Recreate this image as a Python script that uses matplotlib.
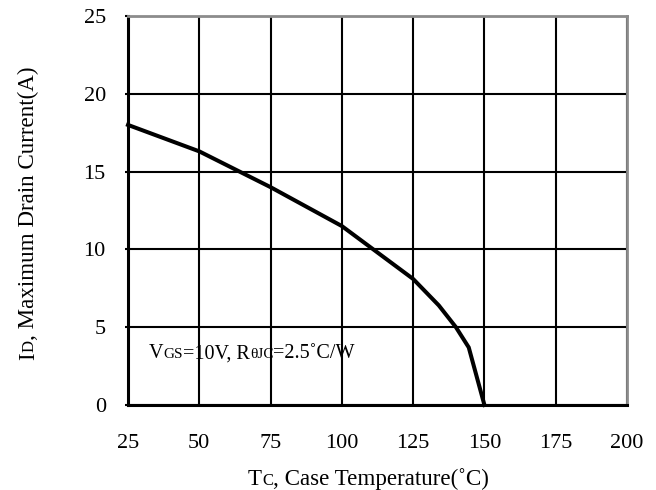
" maximum drain current vs case temperature "
import matplotlib
matplotlib.use("Agg")
import matplotlib.pyplot as plt

plt.rcParams['font.family'] = ['Liberation Serif', 'DejaVu Serif']

tc = [25, 50, 75, 100, 125, 134, 140, 144.5, 150]
i_d = [18.0, 16.3, 14.0, 11.5, 8.1, 6.4, 5.0, 3.7, 0.0]
xticks = [25, 50, 75, 100, 125, 150, 175, 200]
yticks = [0, 5, 10, 15, 20, 25]


def chain(ax, pieces, xy, coords, rotation=0):
    " draw text pieces one after another on a common baseline "
    prev = None
    for txt, size in pieces:
        if prev is None:
            t = ax.annotate(txt, xy=xy, xycoords=coords, fontsize=size,
                            rotation=rotation, rotation_mode='anchor',
                            ha='left', va='baseline', annotation_clip=False)
        elif rotation == 0:
            t = ax.annotate(txt, xy=(1, xy[1]), xycoords=(prev, coords),
                            fontsize=size, ha='left', va='baseline',
                            annotation_clip=False)
        else:
            t = ax.annotate(txt, xy=(xy[0], 1), xycoords=(coords, prev),
                            fontsize=size, rotation=rotation,
                            rotation_mode='anchor', ha='left', va='baseline',
                            annotation_clip=False)
        prev = t
    return prev


fig = plt.figure(figsize=(6.56, 4.9), dpi=100)
ax = fig.add_axes([128/656, 85/490, 499/656, 389/490])

ax.plot(tc, i_d, color='k', lw=2.9, solid_joinstyle='miter', clip_on=False,
        zorder=5)

ax.set_xlim(25, 200)
ax.set_ylim(0, 25)
ax.set_xticks(xticks)
ax.set_yticks(yticks)
ax.grid(True, color='k', lw=1.5)
ax.tick_params(axis='x', length=0, pad=21, labelsize=16)
ax.tick_params(axis='y', length=2, width=1.5, pad=14, labelsize=16)

for side in ['left', 'bottom']:
    ax.spines[side].set_color('k')
    ax.spines[side].set_linewidth(2.2)
for side in ['top', 'right']:
    ax.spines[side].set_color('#8c8c8c')
    ax.spines[side].set_linewidth(2.0)

# x label
chain(ax, [("T", 16.6), ("C", 12), (", Case Temperature(˚C)", 16.6)],
      (248/656, 5/490), 'figure fraction')
# y label
chain(ax, [("I", 16.6), ("D", 12), (", Maximum Drain Current(A)", 16.6)],
      (34/656, 130/490), 'figure fraction', rotation=90)
# conditions
chain(ax, [("V", 14.5), ("GS", 11), ("=10V, R", 14.5), ("θJC", 11),
           ("=2.5˚C/W", 14.5)], (32.4, 3.0), 'data')

fig.savefig("out.png", dpi=100)
